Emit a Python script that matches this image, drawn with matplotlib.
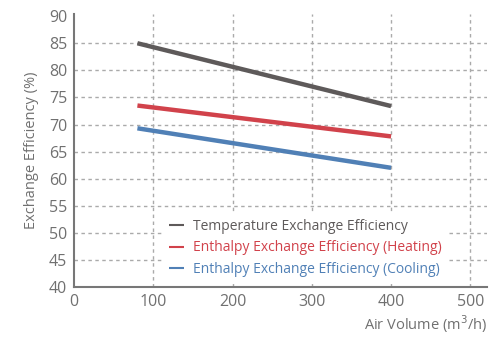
import matplotlib
matplotlib.use('Agg')
import matplotlib.pyplot as plt

plt.rcParams['font.family'] = ['Open Sans', 'DejaVu Sans']

air_volume = [80, 400]
temp_eff = [85.0, 73.4]
heat_eff = [73.5, 67.8]
cool_eff = [69.3, 62.0]

labels = ['Temperature Exchange Efficiency',
          'Enthalpy Exchange Efficiency (Heating)',
          'Enthalpy Exchange Efficiency (Cooling)']
colors = ['#5e5a5a', '#d1424b', '#5080b6']
text_gray = '#707070'

fig = plt.figure(figsize=(4.99, 3.39), dpi=100)
ax = fig.add_axes([74 / 499, 52 / 339, 413 / 499, 273 / 339])

for y, lab, c in zip([temp_eff, heat_eff, cool_eff], labels, colors):
    ax.plot(air_volume, y, color=c, lw=3.2, label=lab, solid_capstyle='butt', zorder=3)

ax.set_xlim(0, 521)
ax.set_ylim(40, 90.4)
ax.set_xticks(range(0, 501, 100))
ax.set_yticks(range(40, 91, 5))

for v in range(100, 501, 100):
    ax.axvline(v, color='#aaaaaa', lw=1, ls=(0, (2.5, 2.5)), zorder=1)
for v in range(45, 86, 5):
    ax.axhline(v, color='#aaaaaa', lw=1, ls=(0, (2.5, 2.5)), zorder=1)

for s in ['top', 'right']:
    ax.spines[s].set_visible(False)
for s in ['left', 'bottom']:
    ax.spines[s].set_color('#777777')
    ax.spines[s].set_linewidth(1.5)
ax.tick_params(length=0, labelsize=11.5, labelcolor=text_gray, pad=5)

ax.set_ylabel('Exchange Efficiency (%)', fontsize=10.5, color=text_gray, labelpad=7)
ax.text(1.0, -0.095, 'Air Volume (m$^{3}$/h)', transform=ax.transAxes,
        ha='right', va='top', fontsize=10.5, color=text_gray)

leg = ax.legend(loc='center left', bbox_to_anchor=(0.2, 0.143), frameon=True,
                fontsize=10, handlelength=1.1, handletextpad=0.6,
                labelspacing=0.45, borderpad=0.4)
leg.get_frame().set_facecolor('white')
leg.get_frame().set_edgecolor('none')
leg.get_frame().set_alpha(1)
for line in leg.get_lines():
    line.set_linewidth(1.5)
for t, c in zip(leg.get_texts(), colors):
    t.set_color(c)

fig.savefig('out.png', dpi=100)
